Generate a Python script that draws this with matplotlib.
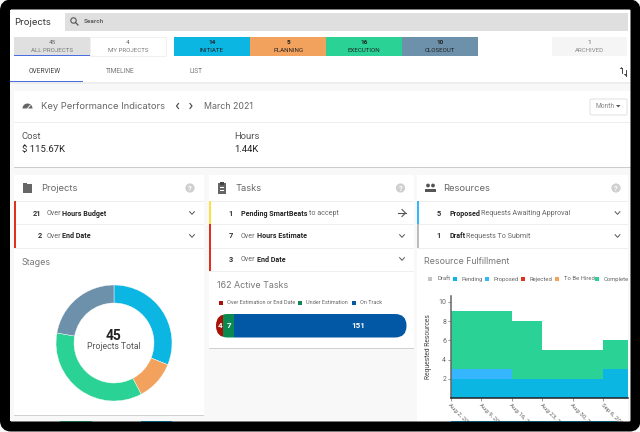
import matplotlib
matplotlib.use("Agg")
import matplotlib.pyplot as plt
import matplotlib.dates as mdates
from matplotlib.patches import Rectangle, FancyBboxPatch, Circle, Polygon, Wedge
from datetime import date, timedelta

plt.rcParams['font.family'] = ['Roboto', 'DejaVu Sans']
TITLE = 'Inter'

# ---------- data ----------
tab_counts = ['45', '4']
tab_labels = ['ALL PROJECTS', 'MY PROJECTS']
stage_names = ['INITIATE', 'PLANNING', 'EXECUTION', 'CLOSEOUT']
stage_values = [14, 5, 16, 10]
stage_colors = ['#0bb6e3', '#f2a25c', '#2ad295', '#6d91ab']
task_names = ['Over Estimation or End Date', 'Under Estimation', 'On Track']
task_values = [4, 7, 151]
task_bar_lengths = [5.7, 9.4, 146.9]  # segment lengths as read from the bar, which is not to scale
task_colors = ['#a81206', '#0a8a50', '#0358a5']
week_dates = [date(2021, 8, 2) + timedelta(days=7 * i) for i in range(7)]
week_labels = ['Aug 2, 2021', 'Aug 9, 2021', 'Aug 16, 2021', 'Aug 23, 2021', 'Aug 30, 2021', 'Sep 6, 2021']
pending = [2, 2, 2, 2, 2, 3, 3]
proposed = [1, 1, 0, 0, 0, 0, 0]
complete = [6, 6, 6, 3, 3, 3, 3]
res_names = ['Draft', 'Pending', 'Proposed', 'Rejected', 'To Be Hired', 'Complete']
res_colors = ['#c4c4c4', '#0bb6e3', '#36b6ff', '#e1301e', '#f2a25c', '#2ad295']

W, H = 640, 432
fig = plt.figure(figsize=(6.4, 4.32), dpi=100, facecolor='white')
ax = fig.add_axes([0, 0, 1, 1], zorder=1)
ax.set_xlim(0, W); ax.set_ylim(H, 0); ax.axis('off')
renderer = fig.canvas.get_renderer()

# overlay for bezel and for text above the chart axes
ov = fig.add_axes([0, 0, 1, 1], zorder=10)
ov.set_xlim(0, W); ov.set_ylim(H, 0); ov.axis('off'); ov.patch.set_alpha(0)


def sub(x0, y0, x1, y1, **kw):
    return fig.add_axes([x0 / W, 1 - y1 / H, (x1 - x0) / W, (y1 - y0) / H], **kw)


def box(x0, y0, x1, y1, c, z=1, ec='none', lw=0):
    ax.add_patch(Rectangle((x0, y0), x1 - x0, y1 - y0, fc=c, ec=ec, lw=lw, zorder=z))


def t(x, y, s, fs=5, c='#555555', ha='left', w='normal', fam=None, target=None, **kw):
    return (target or ax).text(x, y - .5, s, fontsize=fs, color=c, ha=ha, va='center_baseline', fontweight=w,
                               family=fam if fam else plt.rcParams['font.family'], zorder=6, **kw)


def rich(x, y, parts, fs=5.1):
    for s, bold in parts:
        h = t(x, y, s, fs=fs, c='#222222' if bold else '#666666', w='bold' if bold else 'normal')
        x = h.get_window_extent(renderer).x1 + 1.2


def chev(x, y, c='#555555', s=2.4):
    ax.plot([x - s, x, x + s], [y - s * .55, y + s * .55, y - s * .55], color=c, lw=.7, zorder=6)


def help_icon(x, y):
    ax.add_patch(Circle((x, y), 4.6, fc='#cfcfcf', ec='none', zorder=6))
    t(x, y + .5, '?', fs=5.5, c='white', ha='center', w='bold')


# ---------- page ----------
box(0, 0, W, H, '#f8f8f8', 0)
box(10, 9, 631, 84, 'white')
t(14, 22, 'Projects', fs=6.8, c='#333333', fam=TITLE)
box(65, 13, 628, 31, '#dfdfdf')
ax.add_patch(Circle((73.5, 20.5), 2.7, fc='none', ec='#555555', lw=.8, zorder=6))
ax.plot([75.5, 78], [22.5, 25], color='#555555', lw=.9, zorder=6)
t(84, 21.5, 'Search', fs=4.6, c='#666666', w='bold')

box(14, 37, 90, 56, '#e0e0e0')
box(14, 55.3, 90, 56.3, '#4a6ee0', 2)
box(90, 37, 166, 56, 'white', ec='#eeeeee', lw=.6)
for i in range(2):
    cx = 52 + 76 * i
    t(cx, 43, tab_counts[i], fs=4.6, c='#666666', ha='center')
    t(cx, 50, tab_labels[i], fs=4.4, c='#777777', ha='center')

for i, (n, v, c) in enumerate(zip(stage_names, stage_values, stage_colors)):
    x0 = 174 + 76.1 * i
    box(x0, 37, x0 + 76.1, 56, c)
    t(x0 + 38, 43, str(v), fs=4.6, c='#222222', ha='center', w='bold')
    t(x0 + 38, 50, n, fs=4.4, c='#222222', ha='center')
box(552, 37, 627, 56, '#f5f5f5')
t(589, 43, '1', fs=4.6, c='#666666', ha='center')
t(589, 50, 'ARCHIVED', fs=4.4, c='#888888', ha='center')

t(44.5, 71, 'OVERVIEW', fs=4.8, c='#444444', ha='center')
t(120.5, 71, 'TIMELINE', fs=4.8, c='#777777', ha='center')
t(196.5, 71, 'LIST', fs=4.8, c='#777777', ha='center')
box(10, 81, 83, 82.2, '#4a6ee0', 2)
box(10, 82.2, 631, 84, '#eeeeee')
# sort icon
ax.plot([621.5, 621.5], [67.5, 73], color='#444444', lw=.7, zorder=6)
ax.plot([625.5, 625.5], [70, 75.5], color='#444444', lw=.7, zorder=6)
ax.add_patch(Polygon([[619.8, 69], [623.2, 69], [621.5, 67]], fc='#444444', ec='none', zorder=6))
ax.add_patch(Polygon([[623.8, 74], [627.2, 74], [625.5, 76]], fc='#444444', ec='none', zorder=6))

# ---------- KPI ----------
box(14, 91, 631, 167.6, 'white')
box(14, 167, 631, 167.8, '#cccccc', 2)
box(14, 122, 631, 122.8, '#eeeeee', 2)
ax.add_patch(Wedge((27.5, 108.5), 5, 180, 360, fc='#666666', ec='none', zorder=6))
ax.plot([27.5, 30], [108.5, 105.5], color='white', lw=.7, zorder=7)
t(41, 106, 'Key Performance Indicators', fs=6.75, c='#666666', fam=TITLE)
ax.plot([178.5, 176.5, 178.5], [103.5, 106, 108.5], color='#444444', lw=.8, zorder=6)
ax.plot([190, 192, 190], [103.5, 106, 108.5], color='#444444', lw=.8, zorder=6)
t(204, 106, 'March 2021', fs=6.4, c='#666666', fam=TITLE)
ax.add_patch(FancyBboxPatch((590, 99), 37, 16, boxstyle='round,pad=0,rounding_size=1.5', fc='white', ec='#dddddd', lw=.6, zorder=5))
t(595, 106, 'Month', fs=4.9, c='#888888')
ax.add_patch(Polygon([[616, 105], [620.5, 105], [618.2, 107.5]], fc='#555555', ec='none', zorder=6))
t(22, 136, 'Cost', fs=6.8, c='#555555')
t(22, 149, '$ 115.67K', fs=6.8, c='#222222')
t(234, 136, 'Hours', fs=6.8, c='#555555')
t(234, 149, '1.44K', fs=6.8, c='#222222')


# ---------- panels ----------
def panel(x0, x1, y1, title, tx, stripes):
    box(x0, 175, x1, y1, 'white')
    box(x0, y1, x1, y1 + 1, '#d0d0d0', 2)
    t(tx, 188, title, fs=6.75, c='#666666', fam=TITLE)
    y = 201
    for stripe in stripes:
        box(x0, y, x1, y + .8, '#eeeeee', 2)
        box(x0, y, x0 + 2, y + 23.4, stripe, 3)
        y += 23.4
    box(x0, y, x1, y + .8, '#eeeeee', 2)


panel(14, 203.5, 415, 'Projects', 41, ['#e1301e', '#e1301e'])
panel(209, 414, 348, 'Tasks', 236, ['#f8e045', '#e1301e', '#e1301e'])
panel(416.7, 628, 440, 'Resources', 443, ['#36b6ff', '#bbbbbb'])

help_icon(190, 188); help_icon(400.5, 188); help_icon(616, 188)

# panel icons
box(22.5, 184, 32, 193, '#666666', 6); box(22.5, 182.5, 27, 185, '#666666', 6)
box(218, 183, 226, 194, '#666666', 6); box(220, 181.5, 224, 184.5, '#444444', 6)
box(220, 187, 224, 187.8, 'white', 7); box(220, 190, 224, 190.8, 'white', 7)
for cx in (428, 433):
    ax.add_patch(Circle((cx, 185.5), 1.9, fc='#555555', ec='none', zorder=6))
    box(cx - 3, 188.5, cx + 3, 191.5, '#555555', 6)

t(41.5, 213, '21', fs=5.4, c='#333333', ha='right', w='bold')
rich(46.5, 213, [('Over', 0), ('Hours Budget', 1)])
t(41.5, 236, '2', fs=5.4, c='#333333', ha='right', w='bold')
rich(46.5, 236, [('Over', 0), ('End Date', 1)])
chev(192, 213); chev(192, 236)

t(233, 213, '1', fs=5.4, c='#333333', ha='right', w='bold')
rich(241, 213, [('Pending SmartBeats', 1), ('to accept', 0)])
t(233, 236, '7', fs=5.4, c='#333333', ha='right', w='bold')
rich(241, 236, [('Over', 0), ('Hours Estimate', 1)])
t(233, 259, '3', fs=5.4, c='#333333', ha='right', w='bold')
rich(241, 259, [('Over', 0), ('End Date', 1)])
ax.plot([398, 405.5], [213, 213], color='#555555', lw=.8, zorder=6)
ax.plot([402, 405.5, 402], [209.5, 213, 216.5], color='#555555', lw=.8, zorder=6)
chev(402, 236); chev(402, 259)

t(441, 213, '5', fs=5.4, c='#333333', ha='right', w='bold')
rich(449, 213, [('Proposed', 1), ('Requests Awaiting Approval', 0)])
t(441, 236, '1', fs=5.4, c='#333333', ha='right', w='bold')
rich(449, 236, [('Draft', 1), ('Requests To Submit', 0)])
chev(617.5, 213); chev(617.5, 236)

# ---------- donut ----------
t(22, 262, 'Stages', fs=6.4, c='#777777', fam=TITLE)
dax = sub(52, 281, 176, 405, zorder=2)
dax.pie(stage_values, colors=stage_colors, startangle=90, counterclock=False, radius=58 / 62,
        wedgeprops=dict(width=18 / 62, edgecolor='white', linewidth=.3))
dax.set_xlim(-1, 1); dax.set_ylim(-1, 1)
t(114, 335, '45', fs=10, c='#222222', ha='center', w='bold', target=ov)
t(114, 346, 'Projects Total', fs=6.2, c='#555555', ha='center', target=ov)

# ---------- tasks ----------
t(217, 285, '162 Active Tasks', fs=6.4, c='#777777', fam=TITLE)
for n, c, sx in zip(task_names, task_colors, [220.5, 299.5, 353.5]):
    box(sx - 2, 300.5, sx + 2, 304.5, c, 6)
    t(sx + 6.5, 302.5, n, fs=4.0, c='#666666')
bax = sub(216, 314, 406.5, 337.5, zorder=2)
bax.axis('off')
total = sum(task_bar_lengths)
bax.set_xlim(0, total); bax.set_ylim(0, 1)
clip = FancyBboxPatch((0, 0), total, 1,
                      boxstyle=f'round,pad=0,rounding_size={total * 11.5 / 190.5:.3f}',
                      mutation_aspect=1 / (total * 23.5 / 190.5), transform=bax.transData, fc='none', ec='none')
bax.add_patch(clip)
left = 0
for v, c in zip(task_bar_lengths, task_colors):
    for b in bax.barh(0.5, v, left=left, height=1, color=c, linewidth=0):
        b.set_clip_path(clip)
    left += v
for v, lx in zip(task_values, [220, 229, 358]):
    t(lx, 326, str(v), fs=5.8, c='white', ha='center', w='bold', target=ov)

# ---------- resource fulfilment ----------
t(424, 261, 'Resource Fulfillment', fs=6.4, c='#777777', fam=TITLE)
for n, c, sx in zip(res_names, res_colors, [430, 455, 487, 523, 557, 597]):
    box(sx - 2.2, 276.8, sx + 2.2, 281.2, c, 6)
    t(sx + 7, 279, n, fs=4.2, c='#666666')

rax = sub(451, 296, 628, 398, zorder=2)
x = mdates.date2num(week_dates)
rax.stackplot(x, pending, proposed, complete, step='post',
              colors=[res_colors[1], res_colors[2], res_colors[5]], linewidth=0)
rax.set_xlim(x[0], x[0] + 7 * 5.82)
rax.set_ylim(0, 10.6)
rax.set_yticks([2, 4, 6, 8, 10])
rax.set_xticks(x[:6])
rax.set_xticklabels(week_labels, rotation=-45, ha='left', rotation_mode='anchor', fontsize=4.4, color='#666666')
rax.tick_params(axis='y', labelsize=5, labelcolor='#666666', length=2, width=.6, color='#888888', pad=1.5)
rax.tick_params(axis='x', length=2, width=.6, color='#888888', pad=1.5)
for s in ('top', 'right'):
    rax.spines[s].set_visible(False)
rax.spines['left'].set_linewidth(1.1); rax.spines['left'].set_color('#666666')
rax.spines['bottom'].set_linewidth(1.1); rax.spines['bottom'].set_color('#222222')
ax.text(428, 347, 'Requested Resources', fontsize=4.9, color='#444444', ha='center', va='center',
        rotation=90, zorder=6)

# content peeking in above the bezel
box(60, 420.5, 92, 423, '#2ad295', 2)
box(141, 420.5, 172, 423, '#0bb6e3', 2)
box(451, 420.5, 617, 423, '#0bb6e3', 2)

# ---------- bezel ----------
ov.add_patch(FancyBboxPatch((5, 4.5), 630.5, 422, boxstyle='round,pad=0,rounding_size=6',
                            fc='none', ec='black', lw=7.2, zorder=20))

fig.savefig('out.png', dpi=100)
